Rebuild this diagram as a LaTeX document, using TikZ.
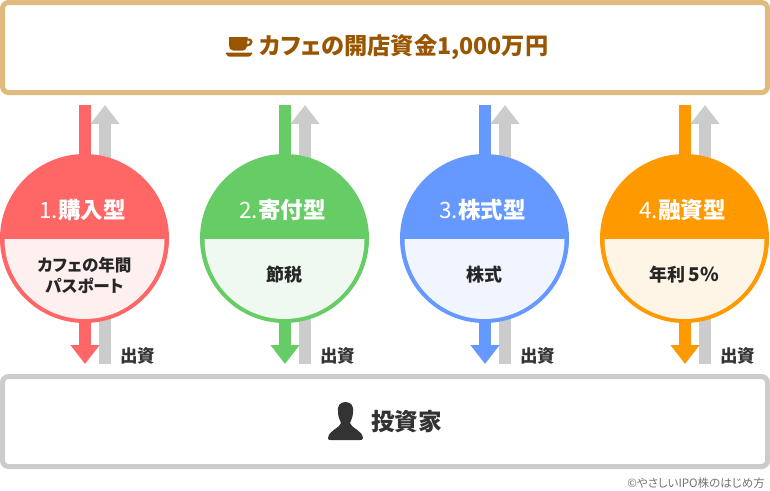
\documentclass[tikz,border=0pt]{standalone}
\usepackage{fontspec}
\setmainfont{Noto Sans CJK JP}[RawFeature=+palt]
\usetikzlibrary{arrows.meta, positioning}
\definecolor{capcol}{HTML}{E0BB7E}
\definecolor{capink}{HTML}{995500}
\definecolor{greycol}{HTML}{CCCCCC}
\definecolor{inkcol}{HTML}{333333}
\definecolor{redcol}{HTML}{FF6666}
\definecolor{redsoft}{HTML}{FFF0F0}
\definecolor{greencol}{HTML}{66CC66}
\definecolor{greensoft}{HTML}{F0F9F0}
\definecolor{bluecol}{HTML}{6699FF}
\definecolor{bluesoft}{HTML}{F0F5FF}
\definecolor{orangecol}{HTML}{FF9900}
\definecolor{orangesoft}{HTML}{FFF5E6}
\newcommand{\bodybig}{\fontsize{18}{21}\selectfont}
\tikzset{
	bigbox/.style={draw, line width=5pt, rounded corners=6pt, minimum width=765pt, minimum height=90pt, inner sep=0pt},
	flowline/.style={line width=12pt, -{Triangle[width=28pt, length=19pt]}},
	ballbox/.style={circle, minimum size=169pt, inner sep=0pt, outer sep=0pt, line width=0pt}
}

\begin{document}
\begin{tikzpicture}[x=1pt, y=-1pt]
	\useasboundingbox (0,0) rectangle (770,490);
	
	% Top and bottom boxes
	\node[bigbox, draw=capcol] (cafe) at (385,47.5) {};
	\node[bigbox, draw=greycol] (investor) at (385,421.5) {};
	\node[text=capink, font=\fontsize{23.2}{25}\selectfont\bfseries, anchor=west, inner sep=0pt] (fund) at (259,47) {カフェの開店資金1,000万円};
	\node[text=inkcol, font=\fontsize{23.6}{25}\selectfont\bfseries, anchor=west, inner sep=0pt] (inv) at (371,422) {投資家};
	\node[text=black!55, font=\fontsize{11.5}{12}\selectfont, anchor=east, inner sep=0pt] (credit) at (765,483.5) {©やさしいIPO株のはじめ方};
	
	% Cup
	\fill[capink] (229,37) -- (247.5,37) -- (247.5,38.5) .. controls (254,37.5) and (255,45.5) .. (247,46.5) .. controls (246,49) and (245,50.5) .. (243,50.5) -- (233,50.5) .. controls (230,50.5) and (229,48) .. (229,45) -- cycle;
	\fill[white] (247.5,40.5) .. controls (250.5,40) and (250.5,44) .. (247.3,44) -- cycle;
	\fill[capink, rounded corners=1pt] (225,52.5) -- (253,52.5) -- (250,56.5) -- (228,56.5) -- cycle;
	
	% Person
	\fill[inkcol] (345.5,402) .. controls (351,402) and (354,406) .. (353,412) .. controls (353,417) and (351,420) .. (350,423) .. controls (351,428) and (362,430) .. (363,438) .. controls (363,440) and (361,440) .. (360,440) -- (331,440) .. controls (329,440) and (328,440) .. (328,438) .. controls (329,430) and (340,428) .. (341,423) .. controls (340,420) and (338,417) .. (338,412) .. controls (337,406) and (340,402) .. (345.5,402) -- cycle;
	
	% Four routes
	\foreach \idx/\xpos/\maincol/\softcol/\ttl/\body in {
		1/85/redcol/redsoft/{{\mdseries 1.}購入型}/{カフェの年間\\パスポート},
		2/285/greencol/greensoft/{{\mdseries 2.}寄付型}/{\bodybig 節税},
		3/485/bluecol/bluesoft/{{\mdseries 3.}株式型}/{\bodybig 株式},
		4/685/orangecol/orangesoft/{{\mdseries 4.}融資型}/{\bodybig 年利{\fontsize{19}{21}\selectfont\,5\%}}} {
		\coordinate (up\idx) at (\xpos+20,364);
		\coordinate (upend\idx) at (\xpos+20,105);
		\coordinate (down\idx) at (\xpos,105);
		\coordinate (downend\idx) at (\xpos,364);
		\draw[flowline, greycol] (up\idx) -- (upend\idx);
		\draw[flowline, \maincol] (down\idx) -- (downend\idx);
		% Ball
		\node[ballbox, fill=\maincol] (ball\idx) at (\xpos-0.5,238.5) {};
		\fill[\softcol] (\xpos-80.5,239) arc[start angle=180, end angle=0, radius=80];
		\node[text=white, font=\fontsize{22.5}{24}\selectfont\bfseries, inner sep=0pt] (ttl\idx) at (\xpos-2.5,210) {\ttl};
		\node[align=center, font=\fontsize{16.6}{21}\selectfont\bfseries, inner sep=0pt, text=black!85] (body\idx) at (\xpos-0.5,275) {\body};
		\node[right=15pt of up\idx, yshift=8pt, font=\fontsize{17.5}{18}\selectfont\bfseries, inner sep=0pt, text=inkcol] (pay\idx) {出資};
	}
\end{tikzpicture}
\end{document}
